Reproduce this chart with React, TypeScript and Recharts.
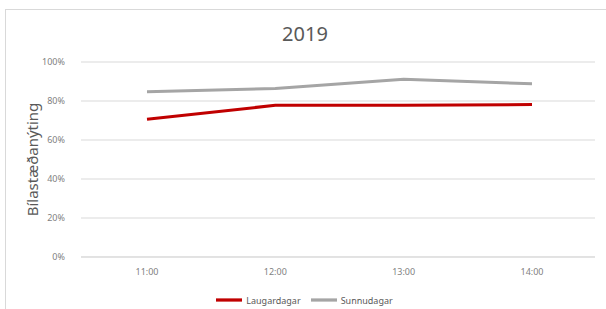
import { LineChart, Line, XAxis, YAxis, CartesianGrid, Legend } from 'recharts'

const hours = ['11:00', '12:00', '13:00', '14:00']
const laugardagar = [0.706, 0.778, 0.778, 0.782]
const sunnudagar = [0.847, 0.864, 0.912, 0.888]
const yTicks = [0, 0.2, 0.4, 0.6, 0.8, 1]

const chartData = hours.map((hour, i) => ({
  hour,
  laugardagar: laugardagar[i],
  sunnudagar: sunnudagar[i],
}))

const font = '"Noto Sans", "Open Sans", sans-serif'

export default function App() {
  return (
    <div style={{ position: 'absolute', left: 0, top: 0, width: 606, height: 309, background: '#fff', overflow: 'hidden', fontFamily: font }}>
      {/* chart area border */}
      <div style={{ position: 'absolute', left: 5, top: 9, width: 620, height: 320, border: '1px solid #d9d9d9' }} />
      <div style={{ position: 'absolute', left: 0, top: 20, width: 610, textAlign: 'center', fontSize: 20, color: '#595959' }}>
        2019
      </div>
      <LineChart
        width={606}
        height={309}
        data={chartData}
        margin={{ top: 62, right: 11, left: 0, bottom: 5 }}
        style={{ position: 'absolute', left: 0, top: 0 }}
      >
        <CartesianGrid vertical={false} stroke="#d9d9d9" />
        <XAxis
          dataKey="hour"
          padding={{ left: 66, right: 63 }}
          axisLine={{ stroke: '#d9d9d9' }}
          tickLine={false}
          tick={{ fill: '#7f7f7f', fontSize: 9 }}
          tickMargin={6}
          height={30}
        />
        <YAxis
          domain={[0, 1]}
          ticks={yTicks}
          width={81}
          axisLine={false}
          tickLine={false}
          tickMargin={10}
          tick={{ fill: '#7f7f7f', fontSize: 9 }}
          tickFormatter={(v: number) => `${Math.round(v * 100)}%`}
          label={{ value: 'Bílastæðanýting', angle: -90, position: 'center', dx: -8, fill: '#595959', fontSize: 15 }}
        />
        <Legend
          iconType="plainline"
          iconSize={26}
          height={17}
          verticalAlign="bottom"
          wrapperStyle={{ paddingLeft: 12 }}
          formatter={(value: string) => <span style={{ color: '#595959', fontSize: 9 }}>{value}</span>}
        />
        <Line
          type="linear"
          dataKey="laugardagar"
          name="Laugardagar"
          stroke="#c00000"
          strokeWidth={3}
          dot={false}
          isAnimationActive={false}
        />
        <Line
          type="linear"
          dataKey="sunnudagar"
          name="Sunnudagar"
          stroke="#a5a5a5"
          strokeWidth={3}
          dot={false}
          isAnimationActive={false}
        />
      </LineChart>
    </div>
  )
}
